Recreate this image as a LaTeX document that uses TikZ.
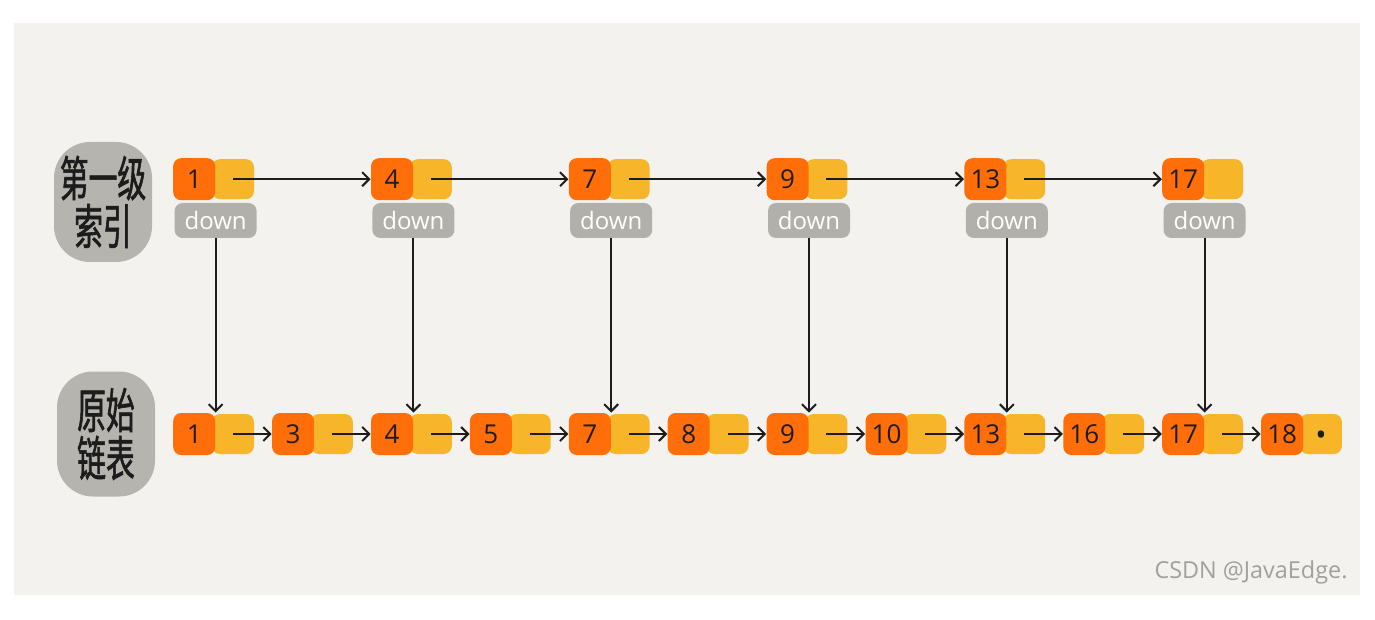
\documentclass[tikz,border=0pt]{standalone}
\usepackage{fontspec}
\setmainfont{Open Sans}
\newfontfamily\cjk[FakeStretch=0.6,FakeBold=1.2]{Noto Sans CJK SC}
\usetikzlibrary{arrows.meta,positioning}
\definecolor{paper}{RGB}{243,242,238}
\definecolor{keyorange}{RGB}{255,110,8}
\definecolor{nextyellow}{RGB}{247,182,42}
\definecolor{downgray}{RGB}{178,176,170}
\definecolor{blobgray}{RGB}{182,180,174}
\definecolor{ink}{RGB}{28,28,28}
\definecolor{wmgray}{RGB}{160,160,158}

\begin{document}
\begin{tikzpicture}[x=0.5pt, y=-0.5pt, node distance=28.05pt,
        every node/.style={inner sep=0pt},
        nextbox/.style={fill=nextyellow, rounded corners=4pt, minimum width=21pt, minimum height=20pt},
        keybox/.style={fill=keyorange, rounded corners=4pt, minimum width=21pt, minimum height=21pt, text=ink, font=\fontsize{13}{13}\selectfont},
        downbox/.style={fill=downgray, rounded corners=4pt, minimum width=41pt, minimum height=17.5pt, text=white, font=\fontsize{12}{12}\selectfont},
        blob/.style={fill=blobgray, rounded corners=18pt, minimum width=49pt, align=center, text=ink, font=\cjk\fontsize{24}{24}\selectfont},
        link/.style={draw=ink, line width=1pt, -{Straight Barb[length=3.5pt,width=7pt]}}]
        % page and paper
        \fill[white] (0,0) rectangle (1375,620);
        \fill[paper] (14,23) rectangle (1360,595);

        % row labels
        \node[blob, minimum height=60pt] (lvl) at (103,202) {第一级\\索引};
        \node[blob, minimum height=62.5pt] (raw) at (106,434) {原始\\链表};

        % original list
        \node[nextbox] (b1n) at (233,434) {};
        \node[keybox, left=-2pt of b1n] (b1) {1};
        \node[nextbox, right=of b1n] (b3n) {};
        \node[keybox, left=-2pt of b3n] (b3) {3};
        \node[nextbox, right=of b3n] (b4n) {};
        \node[keybox, left=-2pt of b4n] (b4) {4};
        \node[nextbox, right=of b4n] (b5n) {};
        \node[keybox, left=-2pt of b5n] (b5) {5};
        \node[nextbox, right=of b5n] (b7n) {};
        \node[keybox, left=-2pt of b7n] (b7) {7};
        \node[nextbox, right=of b7n] (b8n) {};
        \node[keybox, left=-2pt of b8n] (b8) {8};
        \node[nextbox, right=of b8n] (b9n) {};
        \node[keybox, left=-2pt of b9n] (b9) {9};
        \node[nextbox, right=of b9n] (b10n) {};
        \node[keybox, left=-2pt of b10n] (b10) {10};
        \node[nextbox, right=of b10n] (b13n) {};
        \node[keybox, left=-2pt of b13n] (b13) {13};
        \node[nextbox, right=of b13n] (b16n) {};
        \node[keybox, left=-2pt of b16n] (b16) {16};
        \node[nextbox, right=of b16n] (b17n) {};
        \node[keybox, left=-2pt of b17n] (b17) {17};
        \node[nextbox, right=of b17n, text=ink, text height=11pt, text depth=0pt, font=\fontsize{15}{15}\selectfont] (b18n) {\textbullet};
        \node[keybox, left=-2pt of b18n] (b18) {18};

        % first level index
        \node[nextbox, above=107pt of b1n] (i1n) {};
        \node[keybox, left=-2pt of i1n] (i1) {1};
        \node[downbox, below=1pt of i1.south east] (i1d) {down};
        \node[nextbox, above=107pt of b4n] (i4n) {};
        \node[keybox, left=-2pt of i4n] (i4) {4};
        \node[downbox, below=1pt of i4.south east] (i4d) {down};
        \node[nextbox, above=107pt of b7n] (i7n) {};
        \node[keybox, left=-2pt of i7n] (i7) {7};
        \node[downbox, below=1pt of i7.south east] (i7d) {down};
        \node[nextbox, above=107pt of b9n] (i9n) {};
        \node[keybox, left=-2pt of i9n] (i9) {9};
        \node[downbox, below=1pt of i9.south east] (i9d) {down};
        \node[nextbox, above=107pt of b13n] (i13n) {};
        \node[keybox, left=-2pt of i13n] (i13) {13};
        \node[downbox, below=1pt of i13.south east] (i13d) {down};
        \node[nextbox, above=107pt of b17n] (i17n) {};
        \node[keybox, left=-2pt of i17n] (i17) {17};
        \node[downbox, below=1pt of i17.south east] (i17d) {down};

        % next pointers
        \draw[link] (i1n.center) -- (i4.west);
        \draw[link] (i4n.center) -- (i7.west);
        \draw[link] (i7n.center) -- (i9.west);
        \draw[link] (i9n.center) -- (i13.west);
        \draw[link] (i13n.center) -- (i17.west);
        \draw[link] (b1n.center) -- (b3.west);
        \draw[link] (b3n.center) -- (b4.west);
        \draw[link] (b4n.center) -- (b5.west);
        \draw[link] (b5n.center) -- (b7.west);
        \draw[link] (b7n.center) -- (b8.west);
        \draw[link] (b8n.center) -- (b9.west);
        \draw[link] (b9n.center) -- (b10.west);
        \draw[link] (b10n.center) -- (b13.west);
        \draw[link] (b13n.center) -- (b16.west);
        \draw[link] (b16n.center) -- (b17.west);
        \draw[link] (b17n.center) -- (b18.west);

        % down pointers
        \draw[link] (i1d) -- (b1.north east);
        \draw[link] (i4d) -- (b4.north east);
        \draw[link] (i7d) -- (b7.north east);
        \draw[link] (i9d) -- (b9.north east);
        \draw[link] (i13d) -- (b13.north east);
        \draw[link] (i17d) -- (b17.north east);

        \node[text=wmgray, font=\fontsize{11.7}{11.7}\selectfont] (mark) at (1251,572) {CSDN @JavaEdge.};
    \end{tikzpicture}
\end{document}
